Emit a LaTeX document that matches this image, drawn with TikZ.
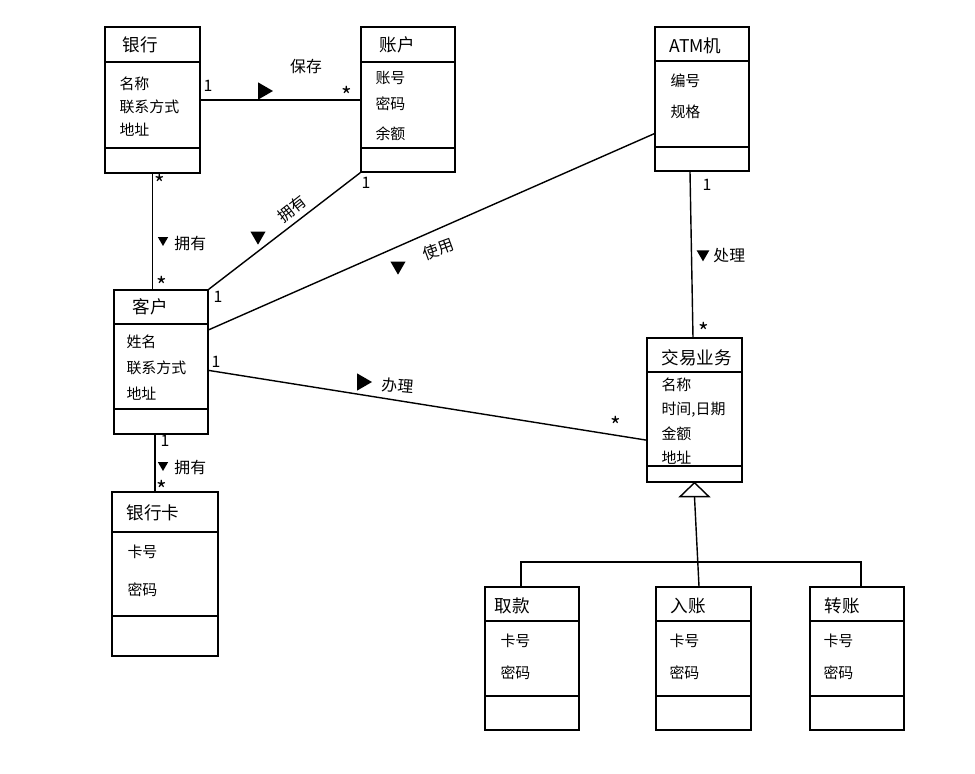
\documentclass[tikz,border=0pt]{standalone}
\usepackage{fontspec}
\newfontfamily\cjk{Noto Sans CJK SC}
\usetikzlibrary{shapes.geometric}

\tikzset{
	classbox/.style={draw, line width=0.8pt, inner sep=0pt},
	title/.style={anchor=west, font=\cjk\fontsize{10}{12}\selectfont},
	attr/.style={anchor=west, font=\cjk\fontsize{8.5}{10}\selectfont},
	mult/.style={font=\cjk\fontsize{9}{10}\selectfont},
	multstar/.style={font=\cjk\fontsize{13}{13}\selectfont, inner sep=0pt, yshift=-2pt},
	assoc/.style={font=\cjk\fontsize{9}{10}\selectfont, inner sep=1pt},
	dirmark/.style={isosceles triangle, isosceles triangle apex angle=60, fill=black, inner sep=0pt}
}

\begin{document}
\begin{tikzpicture}[x=0.02cm, y=-0.02cm, line width=0.8pt]
		\useasboundingbox (0,0) rectangle (975,774);
		
		% Draw the class boxes
		\node[classbox, minimum width=1.9cm, minimum height=2.92cm] (bank) at (152.5,100) {};
		\node[classbox, minimum width=1.88cm, minimum height=2.9cm] (acct) at (408,99.5) {};
		\node[classbox, minimum width=1.88cm, minimum height=2.88cm] (atm) at (702,99) {};
		\node[classbox, minimum width=1.88cm, minimum height=2.88cm] (cust) at (161,362) {};
		\node[classbox, minimum width=1.9cm, minimum height=2.88cm] (deal) at (694.5,410) {};
		\node[classbox, minimum width=2.12cm, minimum height=3.28cm] (card) at (165,574) {};
		\node[classbox, minimum width=1.88cm, minimum height=2.86cm] (take) at (532,658.5) {};
		\node[classbox, minimum width=1.9cm, minimum height=2.86cm] (dep) at (703.5,658.5) {};
		\node[classbox, minimum width=1.88cm, minimum height=2.86cm] (trans) at (857,658.5) {};
		
		% Draw the compartment lines
		\foreach \c/\a/\b in {bank/62/148, acct/62/148, atm/61/147, cust/324/409, deal/372/466, card/532/616, take/621/696, dep/621/696, trans/621/696} {
			\draw (\c.west |- 0,\a) -- (\c.east |- 0,\a);
			\draw (\c.west |- 0,\b) -- (\c.east |- 0,\b);
		}
		
		% Class names
		\node[title] (bankT) at (116,45) {银行};
		\node[title] (acctT) at (373,45) {账户};
		\node[title] (atmT) at (663,46) {ATM机};
		\node[title] (custT) at (126,307) {客户};
		\node[title] (dealT) at (655,358) {交易业务};
		\node[title] (cardT) at (120,513) {银行卡};
		\node[title] (takeT) at (488,606) {取款};
		\node[title] (depT) at (664,606) {入账};
		\node[title] (transT) at (818,606) {转账};
		
		% Attributes
		\node[attr] (bankA1) at (113,84) {名称};
		\node[attr] (bankA2) at (113,107) {联系方式};
		\node[attr] (bankA3) at (113,130) {地址};
		\node[attr] (acctA1) at (369,78) {账号};
		\node[attr] (acctA2) at (369,104) {密码};
		\node[attr] (acctA3) at (369,134) {余额};
		\node[attr] (atmA1) at (664,81) {编号};
		\node[attr] (atmA2) at (664,112) {规格};
		\node[attr] (custA1) at (120,342) {姓名};
		\node[attr] (custA2) at (120,368) {联系方式};
		\node[attr] (custA3) at (120,394) {地址};
		\node[attr] (dealA1) at (655,385) {名称};
		\node[attr] (dealA2) at (655,410) {时间,日期};
		\node[attr] (dealA3) at (655,434) {金额};
		\node[attr] (dealA4) at (655,458) {地址};
		\node[attr] (cardA1) at (121,552) {卡号};
		\node[attr] (cardA2) at (121,590) {密码};
		\foreach \c/\x in {take/494, dep/663, trans/817} {
			\node[attr] (\c A1) at (\x,641) {卡号};
			\node[attr] (\c A2) at (\x,673) {密码};
		}
		
		% Associations
		\draw (bank.east) -- (bank.east -| acct.west);
		\draw (bank.south) -- (bank.south |- cust.north);
		\draw (acct.south west) -- (cust.north east);
		\draw (cust.34) -- (atm.216);
		\draw (cust.-10) -- (deal.212);
		\draw (atm.south -| 690,0) -- (deal.north -| 693,0);
		\draw (cust.south -| 155,0) -- (card.north -| 155,0);
		
		% Generalization
		\coordinate (genTip) at (deal.south);
		\coordinate (genBase) at ([yshift=-0.28cm]genTip);
		\coordinate (barL) at (521,562);
		\coordinate (barR) at (861,562);
		\draw (genBase) -- (dep.north -| 699,0);
		\draw (take.north -| barL) -- (barL) -- (barR) -- (trans.north -| barR);
		\draw[fill=white] (genTip) -- ++(-14.5,14) -- ++(29,0) -- cycle;
		
		% Direction marks and role names
		\node[dirmark, minimum size=0.3cm] (m1) at (263,91) {};
		\node[assoc] (r1) at (306,66) {保存};
		\node[dirmark, minimum size=0.18cm, shape border rotate=-90] (m2) at (163,240) {};
		\node[assoc, anchor=west] (r2) at (172,243) {拥有};
		\node[dirmark, minimum size=0.26cm, shape border rotate=-115] (m3) at (258,236) {};
		\node[assoc, rotate=38] (r3) at (292,209) {拥有};
		\node[dirmark, minimum size=0.26cm, shape border rotate=-90] (m4) at (398,266) {};
		\node[assoc, rotate=20] (r4) at (438,249) {使用};
		\node[dirmark, minimum size=0.3cm, shape border rotate=-8] (m5) at (362,382) {};
		\node[assoc, rotate=-5] (r5) at (398,386) {办理};
		\node[dirmark, minimum size=0.22cm, shape border rotate=-90] (m6) at (703,254) {};
		\node[assoc, anchor=west] (r6) at (711,256) {处理};
		\node[dirmark, minimum size=0.18cm, shape border rotate=-90] (m7) at (163,465) {};
		\node[assoc, anchor=west] (r7) at (172,467) {拥有};
		
		% Multiplicities
		\node[mult] (n1) at (208,86) {1};
		\node[multstar] (n2) at (347,92) {*};
		\node[multstar] (n3) at (160,180) {*};
		\node[multstar] (n4) at (162,282) {*};
		\node[mult] (n5) at (366,183) {1};
		\node[mult] (n6) at (218,297) {1};
		\node[mult] (n7) at (216,362) {1};
		\node[multstar] (n8) at (616,422) {*};
		\node[mult] (n9) at (707,185) {1};
		\node[multstar] (n10) at (704,328) {*};
		\node[mult] (n11) at (165,441) {1};
		\node[multstar] (n12) at (162,486) {*};
	\end{tikzpicture}
\end{document}
